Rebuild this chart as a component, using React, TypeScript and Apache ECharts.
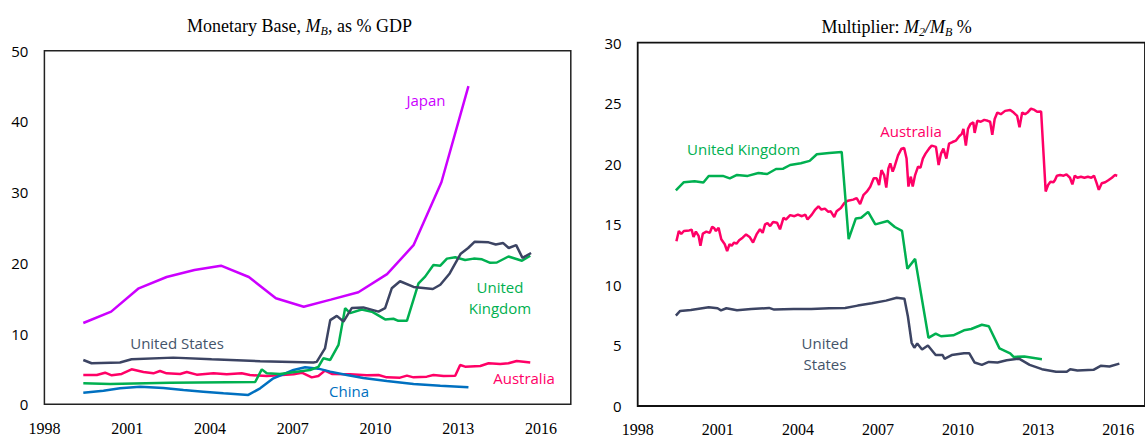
import React, { useEffect, useRef } from "react";
import * as echarts from "echarts";

// ---------- Left panel: Monetary Base, % GDP ----------
const mbJapan: [number, number][] = [
  [1999.41, 11.5], [2000.42, 13.1], [2001.42, 16.4], [2002.43, 18.0], [2003.44, 19.0],
  [2004.4, 19.6], [2005.41, 18.0], [2006.39, 15.0], [2007.4, 13.8], [2008.38, 14.8],
  [2009.38, 15.85], [2010.42, 18.4], [2011.38, 22.5], [2012.39, 31.4], [2013.37, 45.0],
];
const mbUS: [number, number][] = [
  [1999.41, 6.26], [1999.71, 5.8], [2000.74, 5.9], [2001.16, 6.36], [2002.67, 6.6],
  [2004.06, 6.36], [2005.82, 6.1], [2007.75, 5.9], [2007.87, 6.0], [2008.17, 7.9],
  [2008.36, 11.9], [2008.6, 12.5], [2008.84, 11.7], [2009.14, 13.6], [2009.56, 13.7],
  [2010.11, 13.1], [2010.35, 13.6], [2010.59, 16.4], [2010.89, 17.4], [2011.38, 16.6],
  [2012.08, 16.3], [2012.35, 16.9], [2012.69, 18.5], [2013.09, 21.3], [2013.36, 22.1],
  [2013.6, 23.0], [2014.1, 22.9], [2014.36, 22.6], [2014.63, 22.8], [2014.83, 22.1],
  [2015.1, 22.5], [2015.33, 20.7], [2015.64, 21.4],
];
const mbUK: [number, number][] = [
  [1999.41, 2.96], [2000.38, 2.87], [2002.55, 3.06], [2005.64, 3.15], [2005.88, 4.94],
  [2006.06, 4.38], [2006.54, 4.28], [2007.63, 4.85], [2007.93, 5.3], [2008.11, 6.5],
  [2008.36, 6.27], [2008.66, 8.4], [2008.9, 13.6], [2009.08, 12.9], [2009.5, 13.4],
  [2009.87, 13.1], [2010.35, 12.0], [2010.65, 12.1], [2010.83, 11.8], [2011.14, 11.8],
  [2011.56, 17.1], [2011.8, 18.05], [2012.1, 19.7], [2012.35, 19.6], [2012.59, 20.6],
  [2012.89, 20.8], [2013.25, 20.4], [2013.56, 20.6], [2013.86, 20.5], [2014.16, 20.0],
  [2014.4, 20.05], [2014.82, 20.9], [2015.31, 20.3], [2015.61, 21.0],
];
const mbAustralia: [number, number][] = [
  [1999.41, 4.14], [1999.9, 4.14], [2000.2, 4.47], [2000.44, 4.1], [2000.8, 4.3],
  [2001.16, 4.95], [2001.59, 4.57], [2001.95, 4.38], [2002.19, 4.71], [2002.43, 4.38],
  [2002.92, 4.29], [2003.16, 4.57], [2003.52, 4.19], [2004.13, 4.38], [2004.61, 4.24],
  [2005.15, 4.38], [2005.45, 4.14], [2006.06, 4.0], [2007.03, 4.24], [2007.33, 4.47],
  [2007.69, 3.81], [2007.93, 4.0], [2008.17, 4.76], [2008.42, 4.29], [2009.08, 4.24],
  [2009.68, 4.1], [2010.11, 4.14], [2010.41, 3.81], [2010.89, 3.77], [2011.14, 4.05],
  [2011.38, 3.81], [2011.86, 3.91], [2012.1, 4.14], [2012.47, 4.0], [2012.89, 4.05],
  [2013.07, 5.56], [2013.25, 5.32], [2013.8, 5.42], [2014.1, 5.8], [2014.52, 5.7],
  [2014.82, 5.8], [2015.12, 6.13], [2015.61, 5.9],
];
const mbChina: [number, number][] = [
  [1999.41, 1.65], [2000.14, 1.93], [2000.74, 2.26], [2001.47, 2.49], [2002.31, 2.3],
  [2003.04, 2.02], [2003.76, 1.79], [2004.49, 1.55], [2005.39, 1.32], [2005.82, 2.26],
  [2006.3, 3.67], [2007.03, 4.85], [2007.45, 5.23], [2007.93, 5.04], [2008.36, 4.62],
  [2008.96, 4.14], [2009.56, 3.72], [2010.41, 3.3], [2011.38, 2.87], [2012.35, 2.64],
  [2013.37, 2.4],
];

// ---------- Right panel: Multiplier M2/MB ----------
const mulUK: [number, number][] = [
  [1999.43, 17.8], [1999.73, 18.48], [2000.13, 18.56], [2000.46, 18.45], [2000.66, 19.0],
  [2001.19, 19.0], [2001.45, 18.8], [2001.72, 19.08], [2002.12, 19.0], [2002.52, 19.24],
  [2002.85, 19.16], [2003.18, 19.57], [2003.45, 19.6], [2003.71, 19.9], [2004.11, 20.05],
  [2004.44, 20.24], [2004.71, 20.79], [2005.17, 20.9], [2005.64, 20.98], [2005.9, 13.78],
  [2006.17, 15.49], [2006.37, 15.54], [2006.63, 16.03], [2006.9, 15.0], [2007.36, 15.27],
  [2007.63, 14.78], [2007.9, 14.46], [2008.1, 11.33], [2008.39, 12.15], [2008.89, 5.63],
  [2009.16, 5.98], [2009.36, 5.76], [2009.82, 5.84], [2010.22, 6.25], [2010.49, 6.36],
  [2010.89, 6.71], [2011.15, 6.58], [2011.55, 4.76], [2011.95, 4.35], [2012.08, 4.05],
  [2012.48, 4.08], [2013.14, 3.86],
];
const mulUS: [number, number][] = [
  [1999.43, 7.47], [1999.59, 7.85], [1999.99, 7.93], [2000.66, 8.15], [2000.99, 8.07],
  [2001.12, 7.9], [2001.32, 8.07], [2001.72, 7.9], [2002.25, 8.0], [2002.92, 8.1],
  [2003.11, 7.96], [2003.84, 8.0], [2004.5, 8.0], [2005.17, 8.07], [2005.77, 8.1],
  [2006.24, 8.29], [2006.77, 8.48], [2007.3, 8.7], [2007.7, 8.94], [2007.99, 8.86],
  [2008.12, 7.39], [2008.26, 5.22], [2008.36, 4.81], [2008.47, 5.16], [2008.65, 4.67],
  [2008.87, 5.0], [2009.16, 4.21], [2009.42, 4.21], [2009.49, 3.9], [2009.76, 4.21],
  [2010.22, 4.35], [2010.42, 4.35], [2010.62, 3.59], [2010.89, 3.4], [2011.15, 3.64],
  [2011.48, 3.59], [2011.82, 3.78], [2012.28, 3.91], [2012.68, 3.4], [2013.14, 3.04],
  [2013.67, 2.83], [2014.07, 2.83], [2014.2, 3.04], [2014.47, 2.93], [2015.07, 2.99],
  [2015.34, 3.32], [2015.67, 3.26], [2016.04, 3.5],
];
const mulAustralia: [number, number][] = [
  [1999.45, 13.6], [1999.54, 14.45], [1999.63, 14.2], [1999.73, 14.45], [1999.93, 14.5],
  [2000.02, 14.56], [2000.09, 13.96], [2000.18, 14.4], [2000.28, 14.05], [2000.35, 13.23],
  [2000.44, 14.24], [2000.57, 14.4], [2000.7, 14.3], [2000.79, 14.8], [2000.87, 14.67],
  [2000.93, 14.45], [2001.03, 14.72], [2001.13, 13.77], [2001.26, 13.36], [2001.35, 12.8],
  [2001.44, 13.36], [2001.52, 13.23], [2001.61, 13.5], [2001.7, 13.4], [2001.8, 13.68],
  [2001.93, 13.9], [2002.06, 14.17], [2002.19, 13.96], [2002.32, 13.5], [2002.45, 14.17],
  [2002.58, 14.6], [2002.68, 14.3], [2002.77, 15.0], [2002.86, 15.1], [2002.96, 14.86],
  [2003.07, 15.2], [2003.22, 15.13], [2003.33, 14.59], [2003.46, 15.54], [2003.55, 15.4],
  [2003.71, 15.76], [2003.87, 15.67], [2004.0, 15.8], [2004.15, 15.67], [2004.28, 15.8],
  [2004.36, 15.4], [2004.52, 15.8], [2004.65, 16.22], [2004.77, 16.49], [2004.88, 16.22],
  [2005.01, 16.3], [2005.14, 16.03], [2005.23, 16.08], [2005.36, 15.6], [2005.45, 16.08],
  [2005.61, 16.35], [2005.74, 16.76], [2005.87, 16.95], [2006.07, 17.04], [2006.2, 17.17],
  [2006.33, 16.68], [2006.46, 17.44], [2006.58, 17.7], [2006.71, 18.1], [2006.84, 18.8],
  [2006.95, 18.8], [2007.04, 18.25], [2007.13, 19.48], [2007.23, 19.07], [2007.31, 18.04],
  [2007.39, 19.62], [2007.46, 20.03], [2007.55, 19.35], [2007.62, 19.76], [2007.75, 20.7],
  [2007.88, 21.25], [2007.98, 21.3], [2008.07, 20.43], [2008.14, 18.12], [2008.23, 18.94],
  [2008.3, 18.12], [2008.39, 19.07], [2008.5, 19.76], [2008.59, 19.67], [2008.68, 20.43],
  [2008.78, 20.84], [2008.91, 21.25], [2009.01, 21.5], [2009.17, 21.4], [2009.27, 19.9],
  [2009.36, 20.84], [2009.45, 21.25], [2009.56, 20.43], [2009.66, 21.66], [2009.79, 21.8],
  [2009.92, 21.92], [2010.05, 22.3], [2010.14, 22.47], [2010.2, 22.88], [2010.29, 21.5],
  [2010.37, 22.88], [2010.46, 23.28], [2010.57, 23.42], [2010.62, 22.55], [2010.72, 23.55],
  [2010.85, 23.47], [2010.98, 23.63], [2011.11, 23.55], [2011.2, 23.47], [2011.28, 22.39],
  [2011.37, 23.7], [2011.47, 24.23], [2011.6, 24.1], [2011.76, 24.37], [2011.95, 24.45],
  [2012.08, 24.23], [2012.21, 23.96], [2012.3, 23.01], [2012.4, 24.23], [2012.51, 24.1],
  [2012.6, 24.23], [2012.73, 24.56], [2012.86, 24.45], [2012.96, 24.29], [2013.11, 24.31],
  [2013.28, 17.71], [2013.37, 18.25], [2013.46, 18.52], [2013.57, 18.47], [2013.63, 18.66],
  [2013.7, 19.02], [2013.82, 19.07], [2013.95, 19.02], [2014.06, 19.12], [2014.19, 18.85],
  [2014.28, 18.3], [2014.37, 19.02], [2014.47, 18.85], [2014.6, 18.93], [2014.73, 18.85],
  [2014.86, 18.93], [2014.99, 18.85], [2015.09, 19.02], [2015.18, 18.47], [2015.27, 17.85],
  [2015.38, 18.39], [2015.51, 18.47], [2015.64, 18.66], [2015.76, 18.85], [2015.87, 19.07],
  [2015.96, 19.02],
];

const C_JAPAN = "#CC00FF";
const C_US = "#3C4463";
const C_US_TEXT = "#44546A";
const C_UK = "#00B050";
const C_AUS = "#FF0066";
const C_CHINA = "#0070C0";

const LABEL_FONT = '"Open Sans", sans-serif';
const SERIF = '"Liberation Serif", "Times New Roman", serif';

function lineSeries(name: string, data: [number, number][], color: string, idx: number, z = 2) {
  return {
    type: "line",
    name,
    data,
    xAxisIndex: idx,
    yAxisIndex: idx,
    showSymbol: false,
    symbol: "none",
    z,
    lineStyle: { color, width: 2.5 },
    itemStyle: { color },
  };
}

function xAxisCfg(idx: number, max: number, margin: number) {
  return {
    type: "value",
    gridIndex: idx,
    min: 1998,
    max,
    interval: 3,
    axisLine: { show: false },
    axisTick: { show: false },
    splitLine: { show: false },
    axisLabel: {
      margin,
      fontFamily: SERIF,
      fontSize: 16,
      color: "#000",
      showMaxLabel: false,
      formatter: (v: number) => String(Math.round(v)),
    },
  };
}

function yAxisCfg(idx: number, max: number, interval: number) {
  return {
    type: "value",
    gridIndex: idx,
    min: 0,
    max,
    interval,
    axisLine: { show: false },
    axisTick: { show: false },
    splitLine: { show: false },
    axisLabel: { margin: 16, fontFamily: LABEL_FONT, fontSize: 15, color: "#000" },
  };
}

function label(text: string, x: number, y: number, fill: string) {
  return {
    type: "text",
    x,
    y,
    z: 10,
    style: {
      text,
      fill,
      fontFamily: LABEL_FONT,
      fontSize: 15,
      lineHeight: 21,
      align: "center",
      verticalAlign: "middle",
    },
  };
}

const titleRich = {
  n: { fontFamily: SERIF, fontSize: 18, color: "#000", lineHeight: 24, verticalAlign: "bottom" },
  i: { fontFamily: SERIF, fontSize: 18, fontStyle: "italic", color: "#000", lineHeight: 24, verticalAlign: "bottom" },
  s: { fontFamily: SERIF, fontSize: 12, fontStyle: "italic", color: "#000", lineHeight: 12, verticalAlign: "bottom", padding: [0, 0, -2, 0] },
};

function title(text: string, x: number, y: number) {
  return {
    type: "text",
    x,
    y,
    z: 10,
    style: {
      text,
      rich: titleRich,
      fill: "#000",
      fontFamily: SERIF,
      fontSize: 18,
      align: "center",
      verticalAlign: "middle",
    },
  };
}

export default function App() {
  const ref = useRef<HTMLDivElement>(null);
  useEffect(() => {
    const chart = echarts.init(ref.current as HTMLDivElement, null, { renderer: "svg" });
    chart.setOption({
      animation: false,
      backgroundColor: "#fff",
      grid: [
        { left: 44.4, top: 50.7, width: 526.4, height: 353.6, show: true, borderColor: "#222", borderWidth: 1.5, containLabel: false },
        { left: 637.7, top: 42.7, width: 515.3, height: 368, show: true, borderColor: "#111", borderWidth: 1.8, containLabel: false },
      ],
      xAxis: [xAxisCfg(0, 2017.08, 16), xAxisCfg(1, 2017, 15)],
      yAxis: [yAxisCfg(0, 50, 10), yAxisCfg(1, 30, 5)],
      series: [
        lineSeries("Japan", mbJapan, C_JAPAN, 0),
        lineSeries("Australia", mbAustralia, C_AUS, 0),
        lineSeries("China", mbChina, C_CHINA, 0),
        lineSeries("United Kingdom", mbUK, C_UK, 0, 3),
        lineSeries("United States", mbUS, C_US, 0, 4),
        lineSeries("United Kingdom", mulUK, C_UK, 1, 3),
        lineSeries("Australia", mulAustralia, C_AUS, 1),
        lineSeries("United States", mulUS, C_US, 1, 4),
      ],
      graphic: [
        title("{n|Monetary Base, }{i|M}{s|B}{n|, as % GDP}", 299.5, 23),
        title("{n|Multiplier: }{i|M}{s|2}{i|/M}{s|B}{n| %}", 896.6, 24),
        label("Japan", 426, 100, C_JAPAN),
        label("United States", 177, 343, C_US_TEXT),
        label("United\nKingdom", 500, 297.5, C_UK),
        label("Australia", 524, 378, C_AUS),
        label("China", 349, 391, C_CHINA),
        label("United Kingdom", 743.6, 149, C_UK),
        label("Australia", 911, 131, C_AUS),
        label("United\nStates", 825, 353.5, C_US_TEXT),
      ],
    });
    return () => chart.dispose();
  }, []);
  return (
    <div
      ref={ref}
      style={{ position: "fixed", left: 0, top: 0, width: 1145, height: 437, background: "#fff" }}
    />
  );
}
